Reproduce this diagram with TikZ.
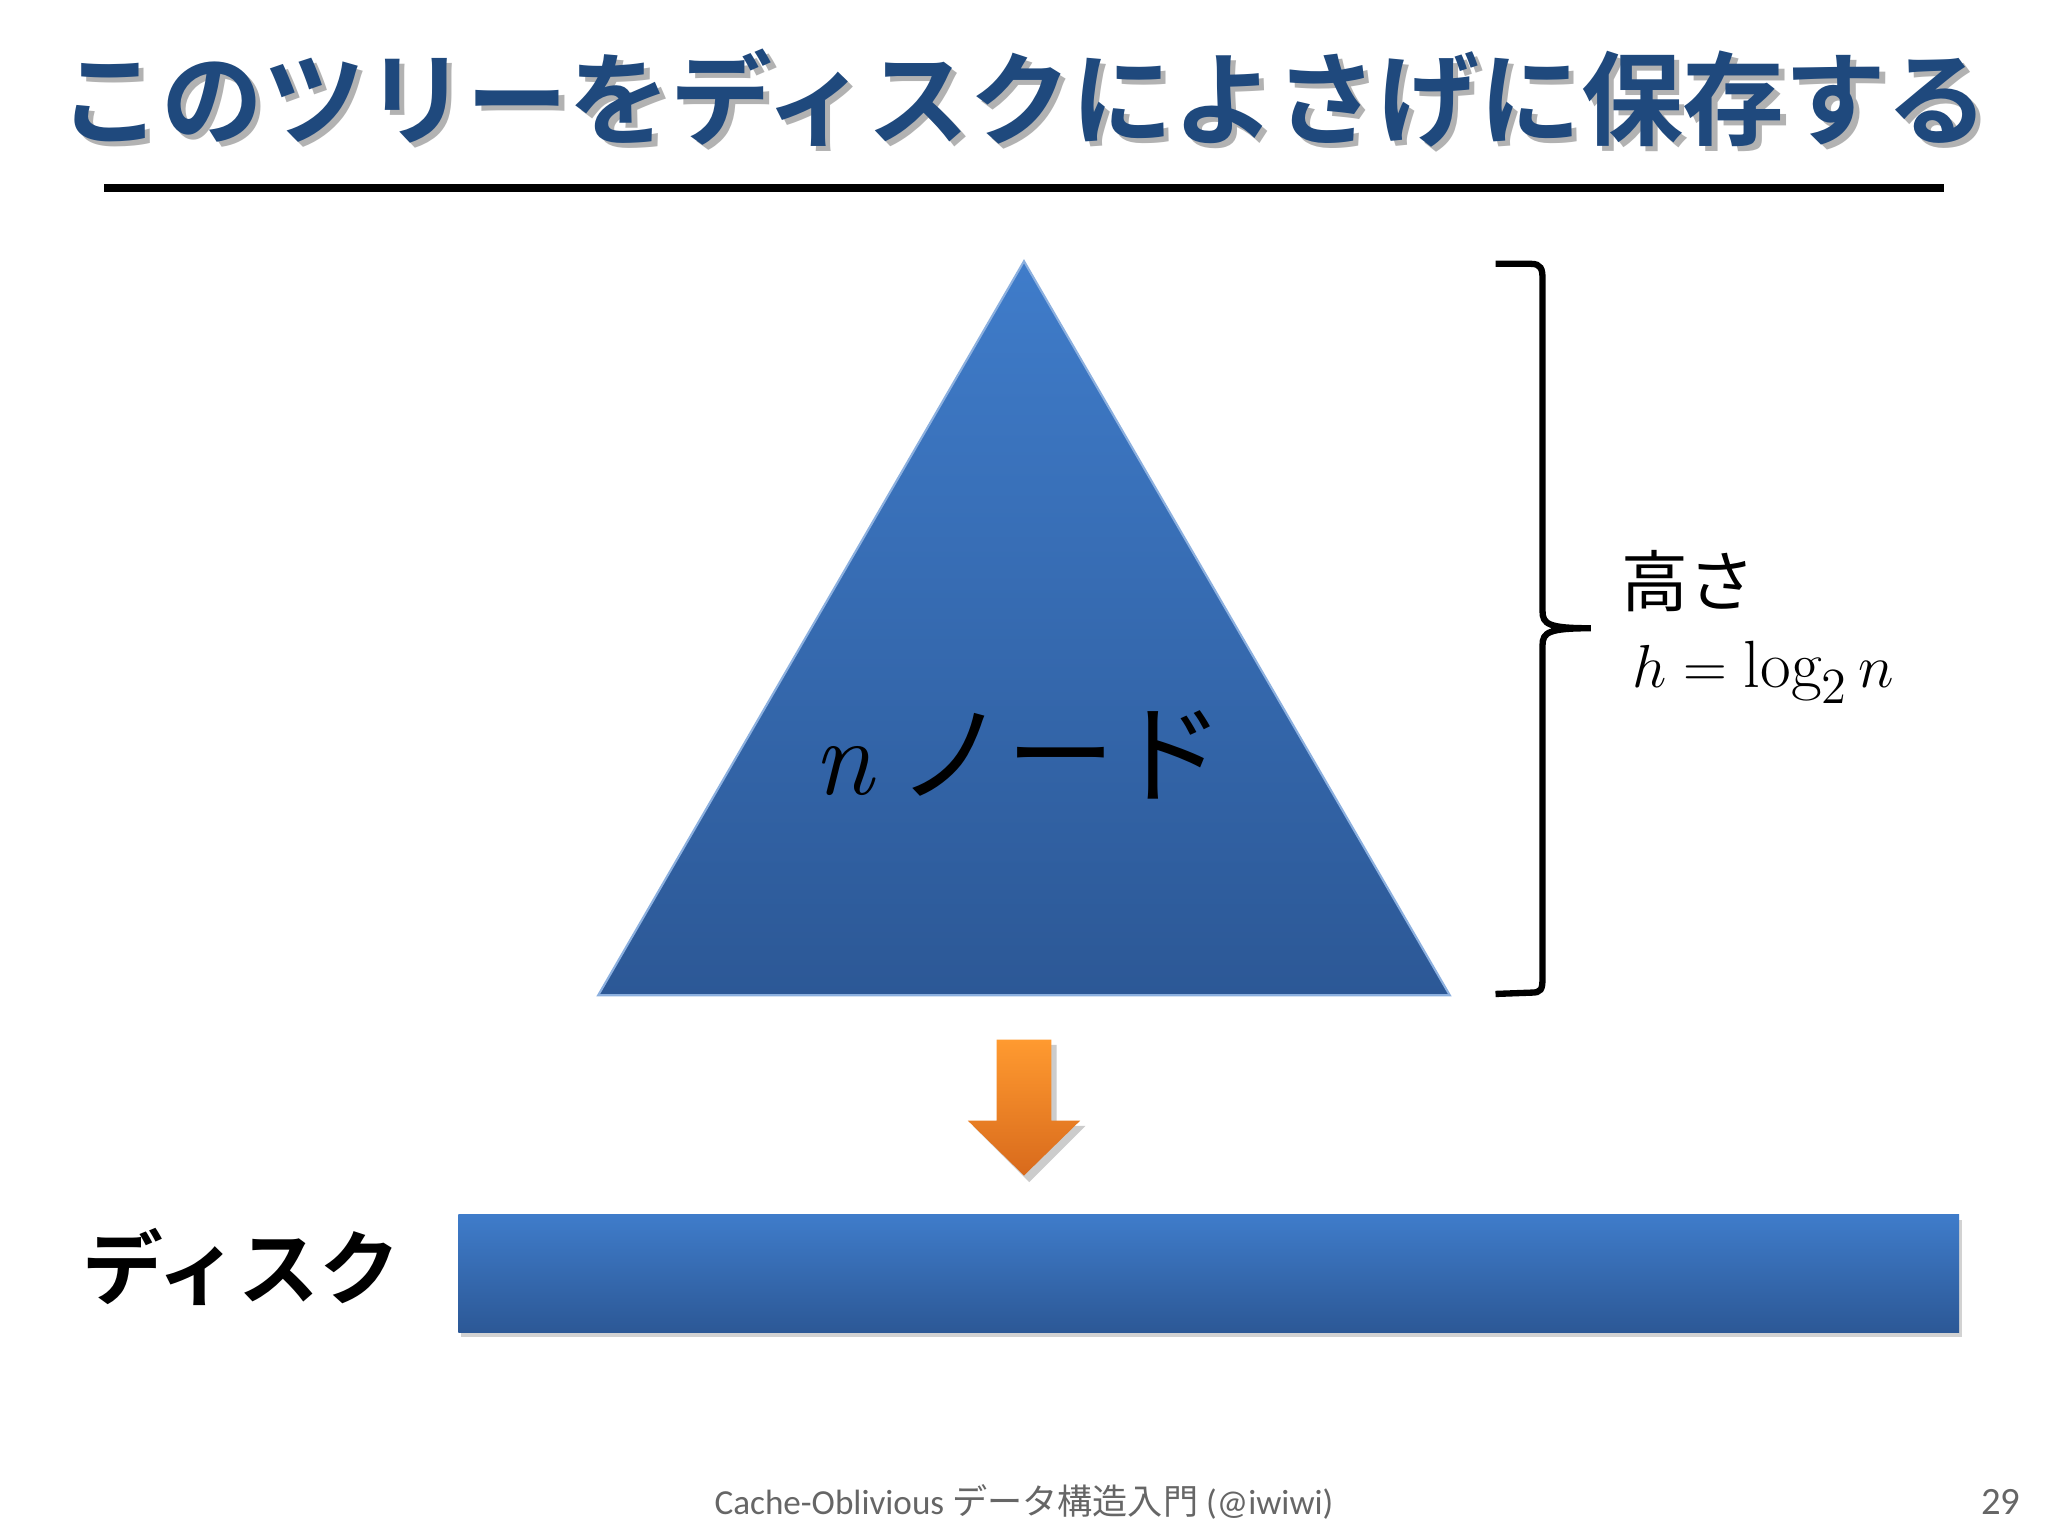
\documentclass[tikz,border=0pt]{standalone}
\usepackage{fontspec}
\newfontfamily\jp{Noto Sans CJK JP}
\newfontfamily\jpb{Noto Sans CJK JP Bold}
\newfontfamily\carl{Carlito}
\usetikzlibrary{shadings}
\definecolor{titleblue}{HTML}{1F497D}
\definecolor{btop}{HTML}{3F7CCA}
\definecolor{bbot}{HTML}{2C5896}
\definecolor{otop}{HTML}{FF9A30}
\definecolor{obot}{HTML}{D86A1C}
\begin{document}
\begin{tikzpicture}[x=0.013061cm,y=-0.013061cm]
\useasboundingbox (0,0) rectangle (1568,1176);
\fill[white] (0,0) rectangle (1568,1176);
% title
\node[text=gray!60, font=\jpb\fontsize{29}{30}\selectfont] (titleshadow) at (788,79) {このツリーをディスクによさげに保存する};
\node[text=titleblue, font=\jpb\fontsize{29}{30}\selectfont] (title) at (784,75) {このツリーをディスクによさげに保存する};
\draw[line width=2.5pt] (80,144) coordinate (l1) -- (1488,144) coordinate (l2);
% triangle
\shade[top color=btop, bottom color=bbot, draw=btop!60!white, line width=0.6pt] (784,200) coordinate (apex) -- (1110,762) -- (458,762) -- cycle;
\node[font=\jp\fontsize{31}{32}\selectfont, anchor=center] (tlabel) at (780,578) {$\mathit{n}$ ノード};
% brace
\draw[line width=1.8pt] (1145,202) -- (1172,202) .. controls (1180,202) and (1181,206) .. (1181,214) -- (1181,468) .. controls (1181,478) and (1186,481) .. (1218,481) coordinate (tip) .. controls (1186,481) and (1181,484) .. (1181,494) -- (1181,748) .. controls (1181,758) and (1180,760) .. (1172,760) -- (1145,761);
\node[font=\jp\fontsize{19}{20}\selectfont, anchor=west] (height) at (1232,445) {高さ};
\node[font=\fontsize{19}{20}\selectfont, anchor=west] (formula) at (1240,515) {$h = \log_2 n$};
% orange arrow
\fill[gray!40] (767,800) -- (809,800) -- (809,862) -- (831,862) -- (788,905) -- (745,862) -- (767,862) -- cycle;
\shade[top color=otop, bottom color=obot] (763,796) coordinate (arr) -- (805,796) -- (805,858) -- (827,858) -- (784,900) -- (741,858) -- (763,858) -- cycle;
% disk
\fill[gray!35] (353,934) rectangle (1502,1024);
\shade[top color=btop, bottom color=bbot] (351,930) rectangle (1500,1020);
\node (disk) at (925,975) {};
\node[font=\jpb\fontsize{23}{24}\selectfont] (disklabel) at (185,970) {ディスク};
% footer
\node[font=\fontsize{10}{12}\selectfont, text=gray!80!black] (footer) at (784,1150) {\carl Cache-Oblivious \jp データ構造入門\carl\ (@iwiwi)};
\node[font=\carl\fontsize{11}{12}\selectfont, text=gray!80!black] (page) at (1532,1150) {29};
\end{tikzpicture}
\end{document}
